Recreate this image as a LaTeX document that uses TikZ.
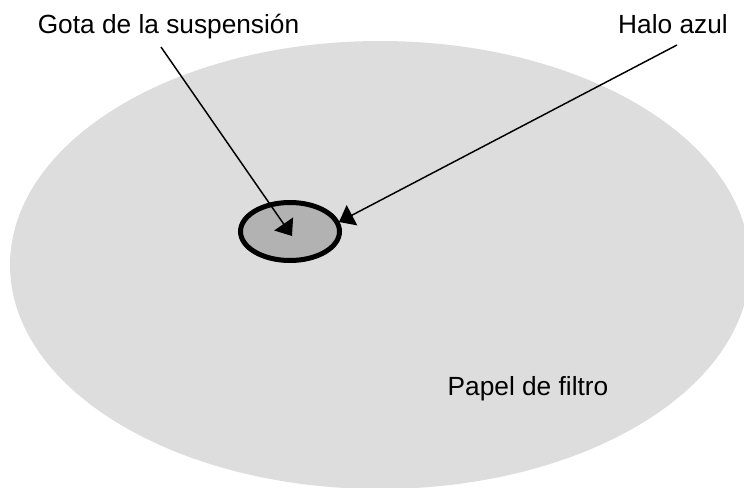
\documentclass[tikz,border=0pt]{standalone}
\usepackage{fontspec}
\setmainfont{Liberation Sans}
\usepackage{xcolor}
\usepackage{tikz}
\usetikzlibrary{arrows.meta,shapes.geometric,positioning}

\definecolor{papergray}{HTML}{DDDDDD}
\definecolor{dropgray}{HTML}{B2B2B2}

\begin{document}
\begin{tikzpicture}[x=0.75pt, y=0.75pt,
		tag/.style={font=\fontsize{19.7}{24}\selectfont, inner sep=0pt, anchor=base},
		pointer/.style={-{Triangle[length=11pt,width=17pt]}, line width=1.1pt}]
				\useasboundingbox (0,0) rectangle (744,487);
				\clip (0,0) rectangle (744,487);

				% filter paper
				\fill[papergray] (380,222) ellipse [x radius=277.5pt, y radius=168pt];

				% drop with blue halo
				\node[ellipse, draw, line width=3.75pt, fill=dropgray, minimum width=74.25pt, minimum height=43.5pt, inner sep=0pt] (drop) at (290,255.5) {};

				\node[tag] (gota) at (168.5,454) {Gota de la suspensión};
				\node[tag] (halo) at (673,454) {Halo azul};
				\node[tag] (papel) at (528,92) {Papel de filtro};

				\coordinate (gotastart) at (161,440);
				\coordinate (halostart) at (677,442);
				\coordinate (gotatip) at (292,251);
				\coordinate (halotip) at (339,265);

				\draw[pointer] (gotastart) -- (gotatip);
				\draw[pointer] (halostart) -- (halotip);
			\end{tikzpicture}
\end{document}
